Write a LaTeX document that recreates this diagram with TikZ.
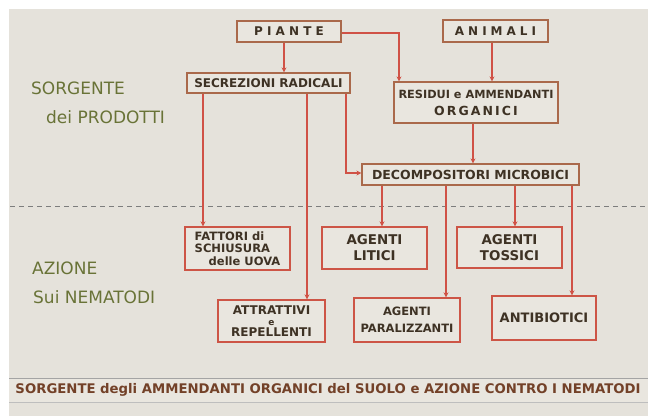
\documentclass[tikz,border=0pt]{standalone}
\usepackage{fontspec}
\setmainfont{DejaVu Sans}
\usetikzlibrary{arrows.meta}
\definecolor{paper}{RGB}{229,226,219}
\definecolor{boxfill}{RGB}{233,230,223}
\definecolor{topedge}{RGB}{170,105,75}
\definecolor{lowedge}{RGB}{205,85,70}
\definecolor{arrowred}{RGB}{208,82,70}
\definecolor{ink}{RGB}{62,50,36}
\definecolor{olive}{RGB}{105,115,55}
\definecolor{capink}{RGB}{115,65,40}
\definecolor{dashgrey}{RGB}{125,125,125}
\tikzset{
  topbox/.style={draw=topedge, line width=1.2pt, fill=boxfill, rectangle, inner sep=0pt,
    text=ink, font=\bfseries\fontsize{10}{11}\selectfont, align=center},
  lowbox/.style={draw=lowedge, line width=1.3pt, fill=boxfill, rectangle, inner sep=0pt,
    text=ink, font=\bfseries\fontsize{10.5}{13}\selectfont, align=center},
  conn/.style={draw=arrowred, line width=1.1pt, -{Stealth[length=5pt,width=5pt]}},
  sidelabel/.style={text=olive, font=\fontsize{17}{19}\selectfont, anchor=west, inner sep=0pt}
}
\begin{document}
\begin{tikzpicture}[x=1pt,y=-1pt]
\useasboundingbox (0,0) rectangle (648,416);
\fill[white] (0,0) rectangle (648,416);
\fill[paper] (9,9) rectangle (648,416);
% caption bar
\fill[boxfill] (9,378) rectangle (648,402);
\draw[dashgrey!70, line width=0.5pt] (9,378) -- (648,378);
\draw[dashgrey!50, line width=0.5pt] (9,402) -- (648,402);
\node[text=capink, inner sep=0pt, font=\bfseries] (cap) at (328,390)
  {\resizebox{625pt}{!}{SORGENTE degli AMMENDANTI ORGANICI del SUOLO e AZIONE CONTRO I NEMATODI}};
% dashed separator
\draw[dashgrey, line width=1pt, dash pattern=on 5pt off 4pt] (10,206) -- (648,206);
% side labels
\node[sidelabel] (s1) at (31,88) {SORGENTE};
\node[sidelabel] (s2) at (46,117) {dei PRODOTTI};
\node[sidelabel] (a1) at (32,268) {AZIONE};
\node[sidelabel] (a2) at (33,297) {Sui NEMATODI};
% top boxes
\node[topbox, minimum width=104pt, minimum height=21pt, font=\bfseries\fontsize{12}{13}\selectfont] (piante) at (289,31.5) {P\ I\ A\ N\ T\ E};
\node[topbox, minimum width=105pt, minimum height=22pt, font=\bfseries\fontsize{12}{13}\selectfont] (animali) at (495.5,31) {A\,\,N\,\,I\,\,M\,\,A\,\,L\,\,I};
\node[topbox, minimum width=163pt, minimum height=20pt, font=\bfseries\fontsize{12}{13}\selectfont] (secr) at (268.5,83) {SECREZIONI RADICALI};
\node[topbox, minimum width=164pt, minimum height=41pt, font=\bfseries\fontsize{11.3}{17}\selectfont] (resid) at (476,102.5) {RESIDUI e AMMENDANTI\\{\fontsize{12.5}{17}\selectfont O\,R\,G\,A\,N\,I\,C\,I}};
\node[topbox, minimum width=217pt, minimum height=21pt, font=\bfseries\fontsize{12.5}{13}\selectfont] (decomp) at (470.5,174.5) {DECOMPOSITORI MICROBICI};
% lower boxes
\node[lowbox, minimum width=105pt, minimum height=43pt, align=left, font=\bfseries\fontsize{11.5}{12.5}\selectfont] (fatt) at (237.5,248.5) {FATTORI di\\SCHIUSURA\\\hspace*{14pt}delle UOVA};
\node[lowbox, minimum width=105pt, minimum height=42pt, font=\bfseries\fontsize{13.4}{16}\selectfont] (litici) at (374.5,248) {AGENTI\\LITICI};
\node[lowbox, minimum width=105pt, minimum height=41pt, font=\bfseries\fontsize{13.4}{16}\selectfont] (tossici) at (509.5,247.5) {AGENTI\\TOSSICI};
\node[lowbox, minimum width=107pt, minimum height=42pt, font=\bfseries\fontsize{12}{11}\selectfont] (attr) at (271.5,321) {ATTRATTIVI\\{\fontsize{9}{11}\selectfont e}\\REPELLENTI};
\node[lowbox, minimum width=106pt, minimum height=44pt, font=\bfseries\fontsize{11.5}{17}\selectfont] (paral) at (407,320) {AGENTI\\PARALIZZANTI};
\node[lowbox, minimum width=104pt, minimum height=44pt, font=\bfseries\fontsize{13}{14}\selectfont] (antib) at (544,318) {ANTIBIOTICI};
% connectors
\draw[conn] (piante.south -| 284,0) -- (secr.north -| 284,0);
\draw[conn] (piante.east |- 0,33) -| (resid.north -| 399,0);
\draw[conn] (animali.south -| 492,0) -- (resid.north -| 492,0);
\draw[conn] (resid.south -| 473,0) -- (decomp.north -| 473,0);
\draw[conn] (secr.south -| 346,0) |- (decomp.west |- 0,173);
\draw[conn] (secr.south -| 203,0) -- (fatt.north -| 203,0);
\draw[conn] (secr.south -| 307,0) -- (attr.north -| 307,0);
\draw[conn] (decomp.south -| 382,0) -- (litici.north -| 382,0);
\draw[conn] (decomp.south -| 446,0) -- (paral.north -| 446,0);
\draw[conn] (decomp.south -| 515,0) -- (tossici.north -| 515,0);
\draw[conn] (decomp.south -| 572,0) -- (antib.north -| 572,0);
\end{tikzpicture}
\end{document}
